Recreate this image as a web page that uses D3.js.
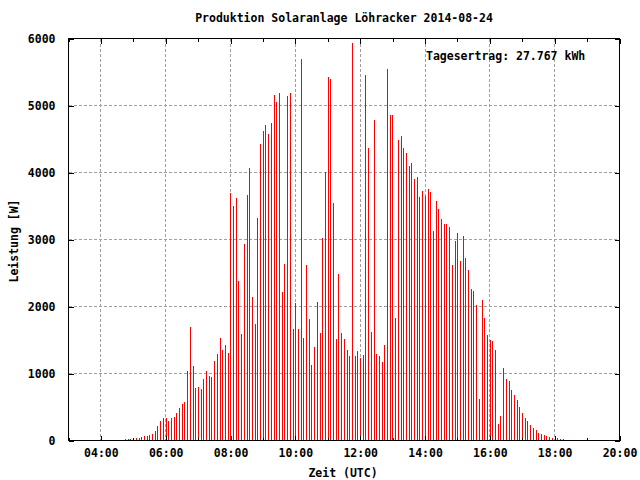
<!DOCTYPE html>
<html>
<head>
<meta charset="utf-8">
<script src="https://cdn.jsdelivr.net/npm/d3@7"></script>
<style>
  html, body { margin: 0; padding: 0; background: #fff; }
  svg { display: block; }
  text { font-family: "DejaVu Sans Mono", "Liberation Mono", monospace; font-weight: bold; font-size: 11.5px; fill: #000; }
</style>
</head>
<body>
<script>
// ---- Data ----
const title = "Produktion Solaranlage Löhracker 2014-08-24";
const xLabel = "Zeit (UTC)";
const yLabel = "Leistung [W]";
const totalLabel = "Tagesertrag: 27.767 kWh";
const startHour = 4.76;      // first sample ~04:45:36 UTC
const stepMinutes = 5;       // 5-minute samples
const powerW = [
  15, 15, 15, 30, 30, 30, 45, 60, 60, 75,
  90, 135, 210, 285, 330, 330, 285, 330, 345, 405,
  480, 540, 570, 1035, 1695, 1110, 780, 795, 765, 915,
  1035, 960, 945, 1185, 1290, 1530, 1350, 1425, 1305, 3690,
  3495, 3615, 2385, 1590, 2940, 3660, 4065, 2145, 1740, 3315,
  4425, 4620, 4710, 4575, 4740, 5160, 5055, 5190, 2220, 2640,
  5145, 5190, 1665, 2055, 1665, 5700, 1530, 2625, 1815, 1125,
  1395, 2070, 1605, 3015, 4005, 5430, 5400, 3540, 1515, 2490,
  1605, 1515, 1350, 1260, 5940, 1260, 1335, 1230, 1275, 5460,
  4365, 1620, 4785, 1290, 1260, 1170, 1425, 5550, 4860, 4860,
  1830, 4485, 4545, 4365, 4290, 4095, 4140, 3900, 3930, 3630,
  3720, 3645, 3750, 3705, 3120, 3570, 3450, 3300, 3225, 3225,
  3180, 2625, 2985, 3090, 2685, 3045, 2730, 2550, 2265, 2235,
  2025, 615, 2100, 1830, 1575, 1500, 1485, 1350, 240, 360,
  1080, 915, 885, 750, 675, 600, 495, 405, 330, 285,
  225, 180, 150, 105, 90, 75, 60, 45, 30, 30,
  30, 15, 15
];
const xTicksMajor = [4, 6, 8, 10, 12, 14, 16, 18, 20];
const xTicksMinor = [3, 5, 7, 9, 11, 13, 15, 17, 19];
const yTicks = [0, 1000, 2000, 3000, 4000, 5000, 6000];

// ---- Layout ----
const W = 640, H = 480;
const L = 68.5, R = 619.5, T = 38.5, B = 440.5;

const svg = d3.select("body").append("svg").attr("width", W).attr("height", H);

const x = d3.scaleLinear().domain([3, 20]).range([L, R]);
const y = d3.scaleLinear().domain([0, 6000]).range([B, T]);
const fmt = h => String(h).padStart(2, "0") + ":00";
const px = v => Math.round(v - 0.5) + 0.5;

// gridlines
const grid = svg.append("g").attr("stroke", "#a0a0a0").attr("stroke-width", 1).attr("stroke-dasharray", "3,2").attr("shape-rendering", "crispEdges");
grid.selectAll("line.v").data(xTicksMajor.filter(d => d > 3 && d < 20)).enter().append("line")
  .attr("x1", d => px(x(d))).attr("x2", d => px(x(d))).attr("y1", T).attr("y2", B);
grid.selectAll("line.h").data(yTicks.filter(d => d > 0 && d < 6000)).enter().append("line")
  .attr("y1", d => px(y(d))).attr("y2", d => px(y(d))).attr("x1", L).attr("x2", R);

// bars (impulses)
const data = powerW.map((v, i) => ({ t: startHour + i * stepMinutes / 60, v }));
svg.append("g").attr("stroke", "#ff0000").attr("stroke-width", 1).attr("shape-rendering", "crispEdges")
  .selectAll("line").data(data).enter().append("line")
  .attr("x1", d => px(x(d.t))).attr("x2", d => px(x(d.t)))
  .attr("y1", y(0)).attr("y2", d => y(d.v));

// axes via d3
function styleAxis(g) {
  g.select(".domain").remove();
  g.selectAll(".tick line").attr("stroke", "#000").attr("shape-rendering", "crispEdges");
}
// bottom major
svg.append("g").attr("transform", `translate(0,${B})`)
  .call(d3.axisBottom(x).tickValues(xTicksMajor).tickSize(-5).tickPadding(14).tickFormat(fmt))
  .call(styleAxis)
  .call(g => g.selectAll("text").attr("font-family", null).attr("font-size", null).attr("dy", "0.2em"));
// bottom minor
svg.append("g").attr("transform", `translate(0,${B})`)
  .call(d3.axisBottom(x).tickValues(xTicksMinor).tickSize(-3).tickFormat(""))
  .call(styleAxis);
// top ticks
svg.append("g").attr("transform", `translate(0,${T})`)
  .call(d3.axisTop(x).tickValues(xTicksMajor).tickSize(-5).tickFormat(""))
  .call(styleAxis);
svg.append("g").attr("transform", `translate(0,${T})`)
  .call(d3.axisTop(x).tickValues(xTicksMinor).tickSize(-3).tickFormat(""))
  .call(styleAxis);
// left
svg.append("g").attr("transform", `translate(${L},0)`)
  .call(d3.axisLeft(y).tickValues(yTicks).tickSize(-5).tickPadding(13).tickFormat(d3.format("d")))
  .call(styleAxis)
  .call(g => g.selectAll("text").attr("font-family", null).attr("font-size", null));
// right
svg.append("g").attr("transform", `translate(${R},0)`)
  .call(d3.axisRight(y).tickValues(yTicks).tickSize(-5).tickFormat(""))
  .call(styleAxis);

// frame
svg.append("rect").attr("x", L).attr("y", T).attr("width", R - L).attr("height", B - T)
  .attr("fill", "none").attr("stroke", "#000").attr("stroke-width", 1).attr("shape-rendering", "crispEdges");

// texts
svg.append("text").attr("x", 344).attr("y", 22).attr("text-anchor", "middle").text(title);
svg.append("text").attr("x", 343).attr("y", 477).attr("text-anchor", "middle").text(xLabel);
svg.append("text").attr("transform", "translate(18,241) rotate(-90)").attr("text-anchor", "middle").text(yLabel);
svg.append("text").attr("x", 426).attr("y", 60).text(totalLabel);
</script>
</body>
</html>
